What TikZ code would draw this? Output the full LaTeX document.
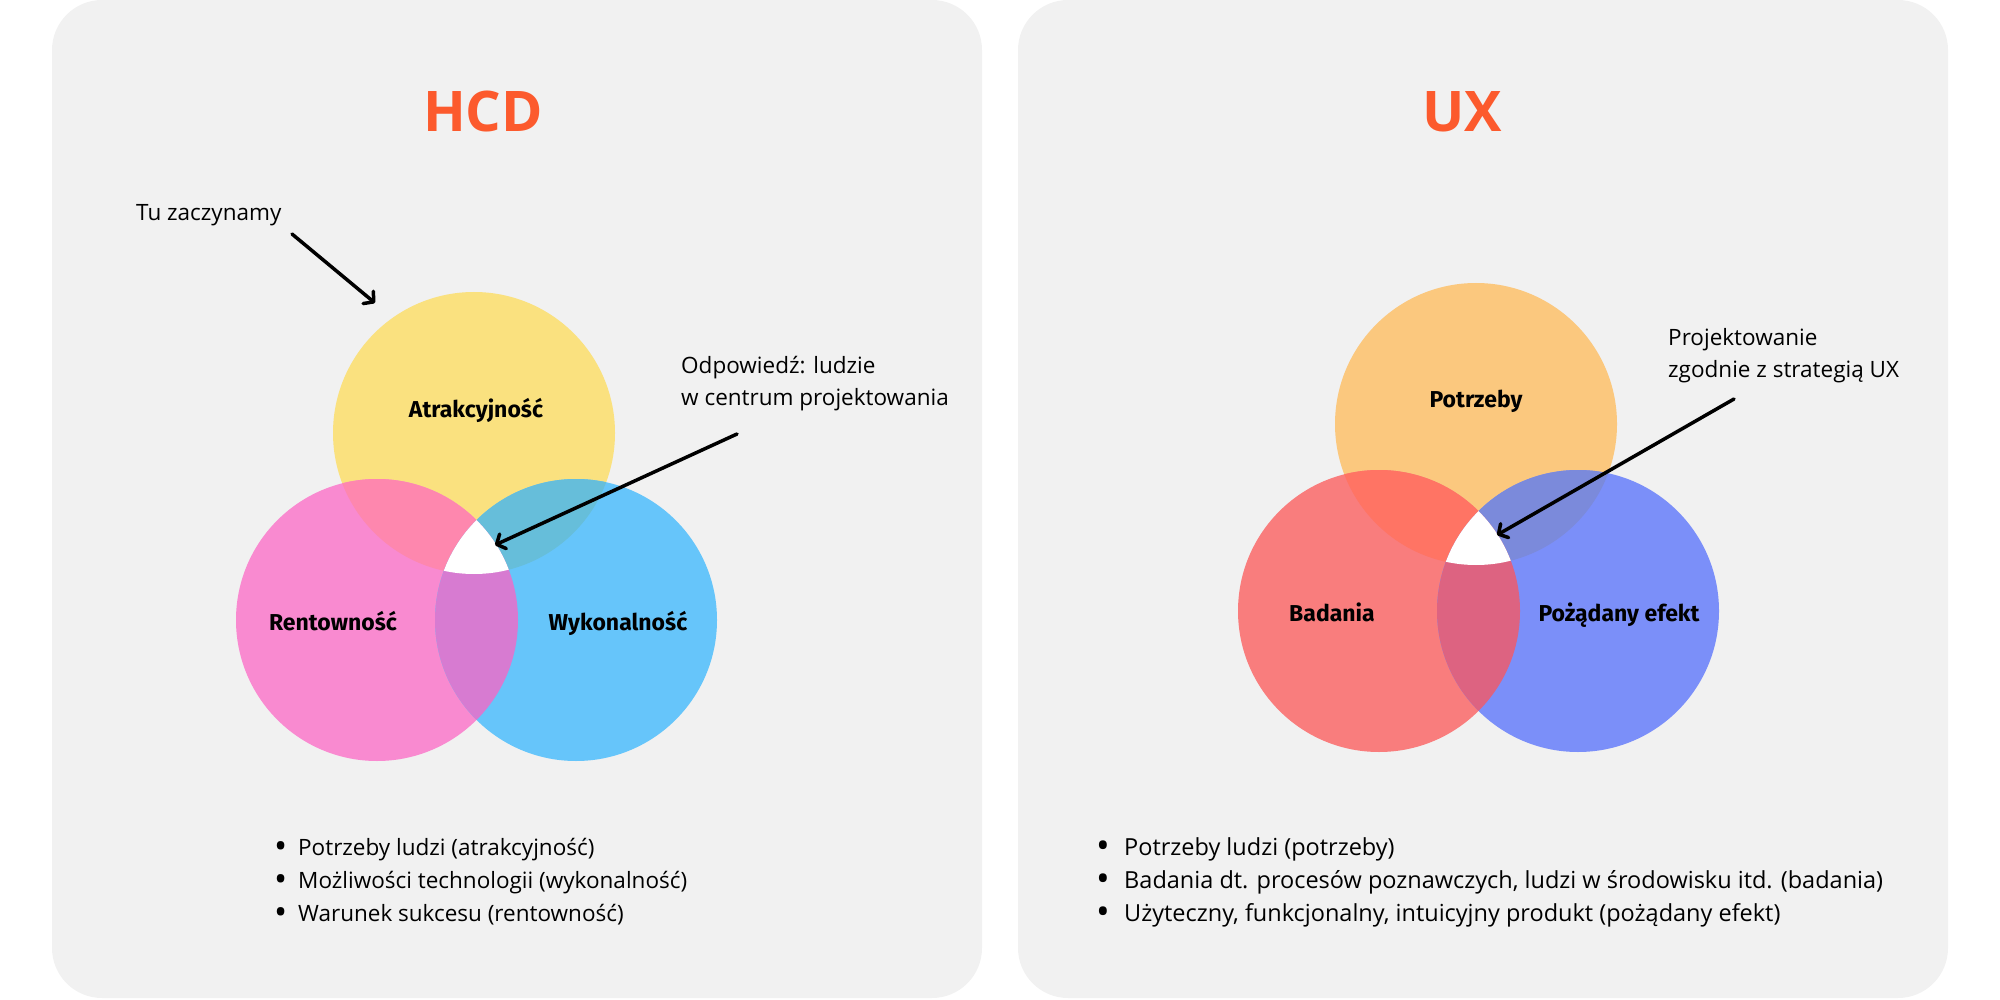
\documentclass[tikz,border=0pt]{standalone}
\usepackage{fontspec}
\setmainfont{Open Sans}
\newfontfamily\kreisfont{Fira Sans}
\usetikzlibrary{arrows.meta}

\definecolor{kartengrau}{HTML}{F1F1F1}
\definecolor{titelrot}{HTML}{FC5A2D}
\definecolor{gelb}{HTML}{FAE17F}
\definecolor{rosa}{HTML}{F98AD0}
\definecolor{himmel}{HTML}{66C5FA}
\definecolor{gelbrosa}{HTML}{FE87AE}
\definecolor{gelbhimmel}{HTML}{66BEDA}
\definecolor{rosahimmel}{HTML}{D77BD1}
\definecolor{apricot}{HTML}{FBC87E}
\definecolor{koralle}{HTML}{F97D7D}
\definecolor{violett}{HTML}{7B8FF9}
\definecolor{apricotkoralle}{HTML}{FF7464}
\definecolor{apricotviolett}{HTML}{7B8ADB}
\definecolor{koralleviolett}{HTML}{DD6381}

\newcommand{\dicker}{\raisebox{-3pt}{\scalebox{1.55}{•}}}

\begin{document}
\begin{tikzpicture}[x=1pt,y=-1pt,
	karte/.style={fill=kartengrau, rounded corners=50pt},
	titel/.style={text=titelrot, font=\fontsize{56}{70}\selectfont\bfseries,
		anchor=base, inner sep=0pt},
	kreistext/.style={font=\kreisfont\bfseries\fontsize{23}{26}\selectfont,
		anchor=base, inner sep=0pt},
	notiz/.style={font=\fontsize{22.5}{32}\selectfont, anchor=base west,
		inner sep=0pt, align=left},
	punkt/.style={font=\fontsize{#1}{33}\selectfont, anchor=base west, inner sep=0pt},
	punkt/.default=22.5,
	pfeil/.style={line width=3.5pt, line cap=round,
		-{Straight Barb[length=7pt,width=16pt,round]}}]
\useasboundingbox (0,0) rectangle (2000,1000);
%Karten zeichnen
\fill[karte] (52,0) rectangle (982,998);
\fill[karte] (1018,0) rectangle (1948,998);
% Titel
\node[titel] (hcd) at (483,132) {HCD};
\node[titel] (ux) at (1462,132) {UX};
%Mittelpunkte der Kreise
\coordinate (A) at (474,433);
\coordinate (R) at (377,620);
\coordinate (W) at (576,620);
\coordinate (P) at (1476,424);
\coordinate (B) at (1379,611);
\coordinate (E) at (1578,611);
% Kreise HCD
\fill[gelb] (A) circle (141pt);
\fill[rosa] (R) circle (141pt);
\fill[himmel] (W) circle (141pt);
\begin{scope}\clip (A) circle (141pt); \fill[gelbrosa] (R) circle (141pt);\end{scope}
\begin{scope}\clip (A) circle (141pt); \fill[gelbhimmel] (W) circle (141pt);\end{scope}
\begin{scope}\clip (R) circle (141pt); \fill[rosahimmel] (W) circle (141pt);\end{scope}
\begin{scope}\clip (A) circle (141pt); \clip (R) circle (141pt);
\fill[white] (W) circle (141pt);\end{scope}
% Kreise UX
\fill[apricot] (P) circle (141pt);
\fill[koralle] (B) circle (141pt);
\fill[violett] (E) circle (141pt);
\begin{scope}\clip (P) circle (141pt); \fill[apricotkoralle] (B) circle (141pt);\end{scope}
\begin{scope}\clip (P) circle (141pt); \fill[apricotviolett] (E) circle (141pt);\end{scope}
\begin{scope}\clip (B) circle (141pt); \fill[koralleviolett] (E) circle (141pt);\end{scope}
\begin{scope}\clip (P) circle (141pt); \clip (B) circle (141pt);
\fill[white] (E) circle (141pt);\end{scope}
%Kreise beschriften
\node[kreistext] (atr) at (476,417) {Atrakcyjność};
\node[kreistext] (ren) at (333,630) {Rentowność};
\node[kreistext] (wyk) at (618,630) {Wykonalność};
\node[kreistext] (pot) at (1476,407) {Potrzeby};
\node[kreistext] (bad) at (1332,621) {Badania};
\node[kreistext] (poz) at (1619,621) {Pożądany efekt};
% Notizen und Pfeile
\node[notiz] (tu) at (136,221) {Tu zaczynamy};
\node[notiz] (odp) at (681,405) {Odpowiedź: ludzie\\w centrum projektowania};
\node[notiz] (proj) at (1668,377) {Projektowanie\\zgodnie z strategią UX};
\coordinate (tuA) at (292,234);
\coordinate (tuB) at (375,303);
\coordinate (odpA) at (737,434);
\coordinate (odpB) at (495,545);
\coordinate (projA) at (1734,399);
\coordinate (projB) at (1497,535);
\draw[pfeil] (tuA) -- (tuB);
\draw[pfeil] (odpA) -- (odpB);
\draw[pfeil] (projA) -- (projB);
%Aufzaehlungen
\foreach \t [count=\i] in {Potrzeby ludzi (atrakcyjność),
	Możliwości technologii (wykonalność), Warunek sukcesu (rentowność)}
\node[punkt, name=hcdpkt\i] at (274,822+33*\i) {\makebox[24pt][l]{\dicker}\t};
\foreach \t [count=\i] in {Potrzeby ludzi (potrzeby),
	{Badania dt. procesów poznawczych, ludzi w środowisku itd. (badania)},
	{Użyteczny, funkcjonalny, intuicyjny produkt (pożądany efekt)}}
\node[punkt=23.5, name=uxpkt\i] at (1096,822+33*\i) {\makebox[28pt][l]{\dicker}\t};
\end{tikzpicture}
\end{document}
